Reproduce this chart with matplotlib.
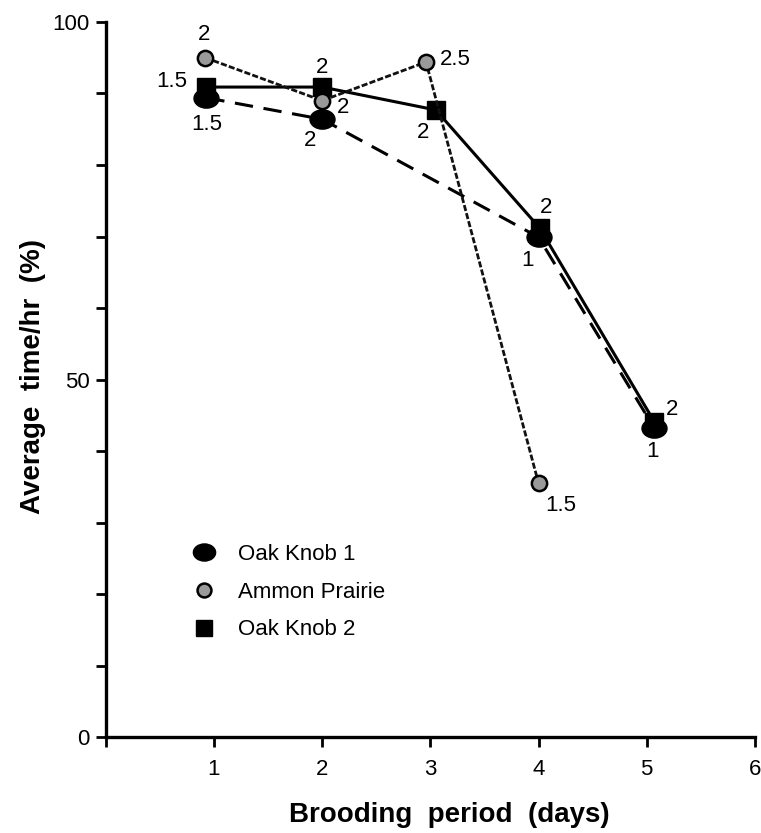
import matplotlib
matplotlib.use("Agg")
import matplotlib.pyplot as plt
from matplotlib.path import Path
from matplotlib.transforms import Affine2D
from matplotlib.lines import Line2D
from matplotlib.ticker import MultipleLocator

plt.rcParams['font.family'] = ['Liberation Sans', 'DejaVu Sans']

# data
ok1_x = [0.93, 2.0, 4.0, 5.07]
ok1_y = [89.4, 86.4, 69.9, 43.2]
ok1_n = ["1.5", "2", "1", "1"]

amm_x = [0.92, 2.0, 2.96, 4.0]
amm_y = [95.0, 89.0, 94.4, 35.5]
amm_n = ["2", "2", "2.5", "1.5"]

ok2_x = [0.93, 2.0, 3.05, 4.01, 5.07]
ok2_y = [90.9, 90.9, 87.7, 71.2, 44.1]
ok2_n = ["1.5", "2", "2", "2", "2"]

x_ticks = [0, 1, 2, 3, 4, 5, 6]
x_labels = ["", "1", "2", "3", "4", "5", "6"]
y_ticks = [0, 50, 100]

ellipse = Path.unit_circle().transformed(Affine2D().scale(1.3, 1.0))

fig = plt.figure(figsize=(7.61, 8.33), dpi=100)
ax = fig.add_axes([0.139, 0.1152, 0.853, 0.8584])

ax.plot(ok1_x, ok1_y, color='black', lw=2.2, ls=(0, (6, 3.5)),
        marker=ellipse, ms=18, mfc='black', mec='black', zorder=3)
ax.plot(amm_x, amm_y, color='#111111', lw=2.0, ls=(0, (2.2, 0.8)),
        marker='o', ms=11, mfc='#9a9a9a', mec='black', mew=1.8, zorder=4)
ax.plot(ok2_x, ok2_y, color='black', lw=2.2, ls='-',
        marker='s', ms=13, mfc='black', mec='black', zorder=3)

# sample size labels (offsets in points)
ok1_off = [(0, -19), (-9, -15), (-8, -17), (-1, -17)]
amm_off = [(-1, 17), (15, -5), (21, 2), (16, -16)]
ok2_off = [(-25, 4), (0, 14), (-9, -16), (5, 15), (13, 9)]

def label(xs, ys, ns, offs):
    for x, y, n, o in zip(xs, ys, ns, offs):
        ax.annotate(n, (x, y), xytext=o, textcoords='offset points',
                    ha='center', va='center', fontsize=16)

label(ok1_x, ok1_y, ok1_n, ok1_off)
label(amm_x, amm_y, amm_n, amm_off)
label(ok2_x, ok2_y, ok2_n, ok2_off)

ax.set_xlim(0, 6)
ax.set_ylim(0, 100)
ax.set_xticks(x_ticks)
ax.set_xticklabels(x_labels)
ax.set_yticks(y_ticks)
ax.yaxis.set_minor_locator(MultipleLocator(10))
ax.spines['top'].set_visible(False)
ax.spines['right'].set_visible(False)
ax.spines['left'].set_linewidth(2.4)
ax.spines['bottom'].set_linewidth(2.4)
ax.tick_params(which='both', direction='out', length=7.5, width=2)
ax.tick_params(axis='y', labelsize=16, pad=4)
ax.tick_params(axis='x', labelsize=16, pad=8)

fig.text(0.59, 1 - 815 / 833, "Brooding  period  (days)", fontsize=20,
         fontweight='bold', ha='center', va='center')
fig.text(33 / 761, 1 - 377 / 833, "Average  time/hr  (%)", fontsize=20,
         fontweight='bold', ha='center', va='center', rotation=90)

handles = [
    Line2D([], [], ls='none', marker=ellipse, ms=16, mfc='black', mec='black'),
    Line2D([], [], ls='none', marker='o', ms=10, mfc='#9a9a9a', mec='black', mew=1.8),
    Line2D([], [], ls='none', marker='s', ms=12, mfc='black', mec='black'),
]
ax.legend(handles, ["Oak Knob 1", "Ammon Prairie", "Oak Knob 2"],
          loc='upper left', bbox_to_anchor=(0.1, 0.298), frameon=False,
          fontsize=16, handletextpad=0.95, labelspacing=0.75, handlelength=1.2)

fig.savefig("out.png", dpi=100)
